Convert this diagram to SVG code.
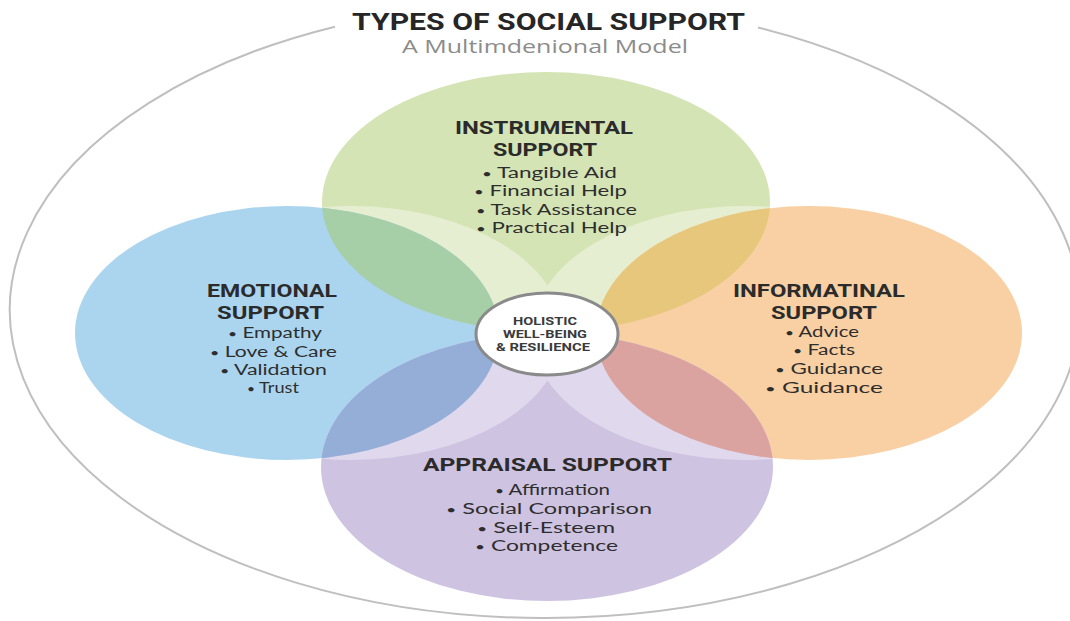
<svg xmlns="http://www.w3.org/2000/svg" width="1070" height="621" viewBox="0 0 1070 621">
  <style>
    .ring { fill: none; stroke: #bfbfbf; stroke-width: 2; }
    .title { font-family: Roboto, "Liberation Sans", sans-serif; font-weight: 700; font-size: 24px; fill: #262626; }
    .subtitle { font-family: "Open Sans", Lato, sans-serif; font-size: 18px; fill: #8c8c8c; }
    .head { font-family: Roboto, "Liberation Sans", sans-serif; font-weight: 700; font-size: 18.5px; fill: #2b2b2b; }
    .item { font-family: Lato, "Open Sans", sans-serif; font-size: 14.5px; fill: #2e2e2e; }
    .item .dot { font-size: 11px; }
    .core { font-family: Roboto, "Liberation Sans", sans-serif; font-weight: 700; font-size: 10.5px; fill: #3a3a3a; }
    .pale { fill: #ffffff; }
  </style>
  <defs>
    <clipPath id="clip-green"><ellipse cx="546" cy="202" rx="224" ry="130"/></clipPath>
    <clipPath id="clip-purple"><ellipse cx="547" cy="467" rx="226" ry="134"/></clipPath>
  </defs>

  <rect width="1070" height="621" fill="#ffffff"/>

  <!-- outer boundary, open at the top where the heading sits -->
  <path id="outer-ring" class="ring" d="M 758 27.5 A 535 308 0 1 1 335 26.7"/>

  <g id="title">
    <text class="title" x="352" y="30" textLength="393" lengthAdjust="spacingAndGlyphs">TYPES OF SOCIAL SUPPORT</text>
    <text class="subtitle" x="402" y="53" textLength="286" lengthAdjust="spacingAndGlyphs">A Multimdenional Model</text>
  </g>

  <g id="node-instrumental">
    <ellipse cx="546" cy="202" rx="224" ry="130" fill="#d5e4b5"/>
    <!-- lighter band toward the centre -->
    <g clip-path="url(#clip-green)" opacity="0.38">
      <ellipse class="pale" cx="351" cy="333" rx="212" ry="127"/>
      <ellipse class="pale" cx="745" cy="333" rx="213" ry="127"/>
    </g>
    <text class="head" x="455" y="134" textLength="178" lengthAdjust="spacingAndGlyphs">INSTRUMENTAL</text>
    <text class="head" x="493" y="156" textLength="104" lengthAdjust="spacingAndGlyphs">SUPPORT</text>
    <text class="item" x="482" y="178" textLength="135" lengthAdjust="spacingAndGlyphs"><tspan class="dot">•</tspan> Tangible Aid</text>
    <text class="item" x="474" y="196" textLength="153" lengthAdjust="spacingAndGlyphs"><tspan class="dot">•</tspan> Financial Help</text>
    <text class="item" x="476" y="215" textLength="161" lengthAdjust="spacingAndGlyphs"><tspan class="dot">•</tspan> Task Assistance</text>
    <text class="item" x="476" y="233" textLength="151" lengthAdjust="spacingAndGlyphs"><tspan class="dot">•</tspan> Practical Help</text>
  </g>

  <g id="node-emotional">
    <ellipse cx="287" cy="333" rx="212" ry="127" fill="#abd5ef"/>
    <text class="head" x="207" y="297" textLength="130" lengthAdjust="spacingAndGlyphs">EMOTIONAL</text>
    <text class="head" x="217" y="319" textLength="107" lengthAdjust="spacingAndGlyphs">SUPPORT</text>
    <text class="item" x="228" y="338" textLength="94" lengthAdjust="spacingAndGlyphs"><tspan class="dot">•</tspan> Empathy</text>
    <text class="item" x="210" y="357" textLength="127" lengthAdjust="spacingAndGlyphs"><tspan class="dot">•</tspan> Love &amp; Care</text>
    <text class="item" x="220" y="375" textLength="107" lengthAdjust="spacingAndGlyphs"><tspan class="dot">•</tspan> Validation</text>
    <text class="item" x="247" y="393" textLength="52" lengthAdjust="spacingAndGlyphs"><tspan class="dot">•</tspan> Trust</text>
  </g>

  <g id="node-informational">
    <ellipse cx="809" cy="333" rx="213" ry="127" fill="#f9d0a3"/>
    <text class="head" x="733" y="297" textLength="172" lengthAdjust="spacingAndGlyphs">INFORMATINAL</text>
    <text class="head" x="771" y="319" textLength="106" lengthAdjust="spacingAndGlyphs">SUPPORT</text>
    <text class="item" x="785" y="337" textLength="74" lengthAdjust="spacingAndGlyphs"><tspan class="dot">•</tspan> Advice</text>
    <text class="item" x="793" y="355" textLength="62" lengthAdjust="spacingAndGlyphs"><tspan class="dot">•</tspan> Facts</text>
    <text class="item" x="775" y="374" textLength="108" lengthAdjust="spacingAndGlyphs"><tspan class="dot">•</tspan> Guidance</text>
    <text class="item" x="765" y="393" textLength="118" lengthAdjust="spacingAndGlyphs"><tspan class="dot">•</tspan> Guidance</text>
  </g>

  <g id="node-appraisal">
    <ellipse cx="547" cy="467" rx="226" ry="134" fill="#cfc3e2"/>
    <g clip-path="url(#clip-purple)" opacity="0.35">
      <ellipse class="pale" cx="351" cy="333" rx="212" ry="127"/>
      <ellipse class="pale" cx="745" cy="333" rx="213" ry="127"/>
    </g>
    <text class="head" x="423" y="471" textLength="249" lengthAdjust="spacingAndGlyphs">APPRAISAL SUPPORT</text>
    <text class="item" x="495" y="495" textLength="115" lengthAdjust="spacingAndGlyphs"><tspan class="dot">•</tspan> Affirmation</text>
    <text class="item" x="446" y="514" textLength="206" lengthAdjust="spacingAndGlyphs"><tspan class="dot">•</tspan> Social Comparison</text>
    <text class="item" x="477" y="533" textLength="138" lengthAdjust="spacingAndGlyphs"><tspan class="dot">•</tspan> Self-Esteem</text>
    <text class="item" x="475" y="551" textLength="143" lengthAdjust="spacingAndGlyphs"><tspan class="dot">•</tspan> Competence</text>
  </g>

  <!-- lens-shaped overlaps between neighbouring circles -->
  <g id="overlaps">
    <ellipse cx="287" cy="333" rx="212" ry="127" fill="#a7cfa7" clip-path="url(#clip-green)"/>
    <ellipse cx="809" cy="333" rx="213" ry="127" fill="#e6c77c" clip-path="url(#clip-green)"/>
    <ellipse cx="287" cy="333" rx="212" ry="127" fill="#95aed8" clip-path="url(#clip-purple)"/>
    <ellipse cx="809" cy="333" rx="213" ry="127" fill="#dba3a0" clip-path="url(#clip-purple)"/>
  </g>

  <g id="node-core">
    <ellipse cx="547" cy="334" rx="71" ry="41" fill="#ffffff" stroke="#8a8a8a" stroke-width="3"/>
    <text class="core" x="513" y="325" textLength="64" lengthAdjust="spacingAndGlyphs">HOLISTIC</text>
    <text class="core" x="503" y="338" textLength="84" lengthAdjust="spacingAndGlyphs">WELL-BEING</text>
    <text class="core" x="496" y="351" textLength="94" lengthAdjust="spacingAndGlyphs">&amp; RESILIENCE</text>
  </g>
</svg>
